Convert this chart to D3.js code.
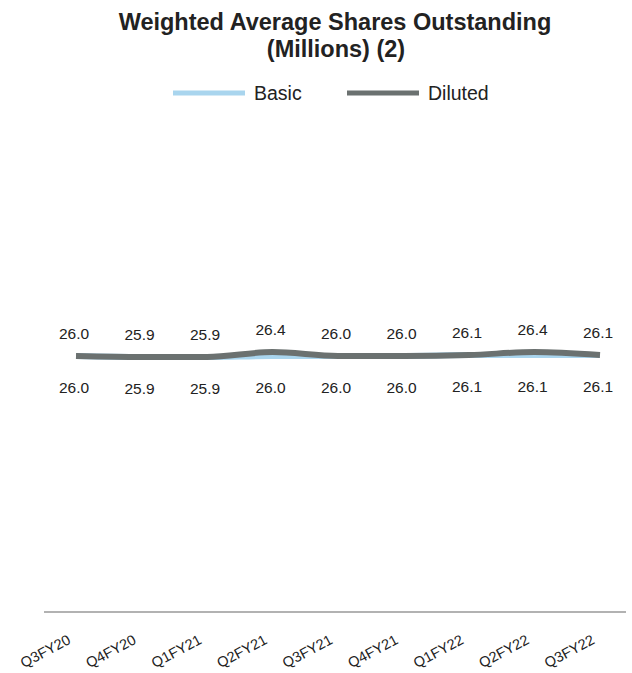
<!DOCTYPE html>
<html lang="en">
  <head>
    <script src="https://d3js.org/d3.v7.min.js"></script>
    <meta charset="utf-8">
    <style>
      body { margin: 0; background: #fff; }
      text { font-family: "Liberation Sans", Arial, sans-serif; fill: #222; }
      .title { font-size: 23.5px; font-weight: bold; }
      .legend text { font-size: 19.5px; }
      .lbl { font-size: 15.5px; }
      .tick text { font-size: 14.5px; fill: #222; }
    </style>
  </head>
  <body>
    <svg id="chart" width="632" height="673"></svg>
  </body>
</html>

<script>
    const quarters = ["Q3FY20", "Q4FY20", "Q1FY21", "Q2FY21", "Q3FY21", "Q4FY21", "Q1FY22", "Q2FY22", "Q3FY22"];
    const basic = [26.0, 25.9, 25.9, 26.0, 26.0, 26.0, 26.1, 26.1, 26.1];
    const diluted = [26.0, 25.9, 25.9, 26.4, 26.0, 26.0, 26.1, 26.4, 26.1];

    const svg = d3.select("#chart");

    const x = d3.scalePoint().domain(quarters).range([76, 600]);
    const y = d3.scaleLinear().domain([0, 26]).range([612, 356]);

    // titel
    svg.append("text").attr("class", "title").attr("x", 335).attr("y", 30)
        .attr("text-anchor", "middle").text("Weighted Average Shares Outstanding");
    svg.append("text").attr("class", "title").attr("x", 336).attr("y", 57)
        .attr("text-anchor", "middle").text("(Millions) (2)");

    // legend
    const legend = svg.append("g").attr("class", "legend");
    const items = [
        { name: "Basic", color: "#a9d5ee", x: 173 },
        { name: "Diluted", color: "#6b7170", x: 347 }
    ];
    items.forEach(it => {
        legend.append("line").attr("x1", it.x).attr("x2", it.x + 72)
            .attr("y1", 93).attr("y2", 93)
            .attr("stroke", it.color).attr("stroke-width", 5);
        legend.append("text").attr("x", it.x + 81).attr("y", 100).text(it.name);
    });

    // x axis line
    svg.append("line").attr("x1", 44).attr("x2", 626).attr("y1", 612).attr("y2", 612)
        .attr("stroke", "#999").attr("stroke-width", 1.5);

    const axis = svg.append("g").attr("transform", "translate(0,612)")
        .call(d3.axisBottom(x).tickSize(0).tickPadding(0));
    axis.select(".domain").remove();
    axis.selectAll(".tick text")
        .attr("text-anchor", "end")
        .attr("dy", 0)
        .attr("transform", "translate(-5,31) rotate(-28)");

    const line = d3.line().x((d, i) => x(quarters[i])).y(d => y(d)).curve(d3.curveMonotoneX);

    svg.append("path").datum(basic).attr("d", line)
        .attr("fill", "none").attr("stroke", "#a9d5ee").attr("stroke-width", 6);
    svg.append("path").datum(diluted).attr("d", line)
        .attr("fill", "none").attr("stroke", "#6b7170").attr("stroke-width", 6);

    // data labels
    svg.append("g").selectAll("text").data(diluted).enter().append("text")
        .attr("class", "lbl").attr("text-anchor", "middle")
        .attr("x", (d, i) => x(quarters[i]) - 2)
        .attr("y", d => y(d) - 17)
        .text(d => d.toFixed(1));

    svg.append("g").selectAll("text").data(basic).enter().append("text")
        .attr("class", "lbl").attr("text-anchor", "middle")
        .attr("x", (d, i) => x(quarters[i]) - 2)
        .attr("y", d => y(d) + 37)
        .text(d => d.toFixed(1));
</script>
